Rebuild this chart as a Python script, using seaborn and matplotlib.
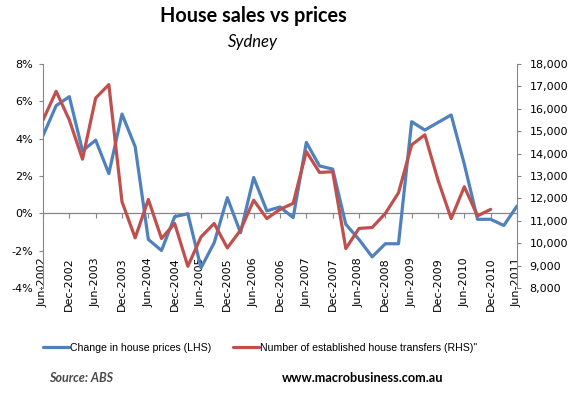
import matplotlib
matplotlib.use("Agg")
import numpy as np
import pandas as pd
import matplotlib.pyplot as plt
import seaborn as sns

# quarterly data, Jun-2002 .. Jun-2011
quarters = ["Jun-2002", "Sep-2002", "Dec-2002", "Mar-2003", "Jun-2003", "Sep-2003", "Dec-2003",
            "Mar-2004", "Jun-2004", "Sep-2004", "Dec-2004", "Mar-2005", "Jun-2005", "Sep-2005",
            "Dec-2005", "Mar-2006", "Jun-2006", "Sep-2006", "Dec-2006", "Mar-2007", "Jun-2007",
            "Sep-2007", "Dec-2007", "Mar-2008", "Jun-2008", "Sep-2008", "Dec-2008", "Mar-2009",
            "Jun-2009", "Sep-2009", "Dec-2009", "Mar-2010", "Jun-2010", "Sep-2010", "Dec-2010",
            "Mar-2011", "Jun-2011"]

# change in house prices (%), LHS
price_change = [4.16, 5.77, 6.25, 3.35, 3.92, 2.13, 5.32, 3.57, -1.40, -1.99, -0.18, -0.02,
                -2.92, -1.58, 0.84, -1.04, 1.92, 0.13, 0.34, -0.23, 3.80, 2.54, 2.37, -0.59,
                -1.40, -2.33, -1.63, -1.63, 4.91, 4.46, 4.87, 5.27, 2.63, -0.32, -0.32, -0.65, 0.39]

# number of established house transfers, RHS (ends Dec-2010)
transfers = [15500, 16780, 15500, 13750, 16480, 17080, 11850, 10240, 11950, 10210, 10880, 8970,
             10280, 10880, 9790, 10580, 11920, 11100, 11510, 11780, 14090, 13160, 13190, 9760,
             10660, 10700, 11330, 12250, 14390, 14840, 12820, 11100, 12520, 11220, 11510]

tick_labels = quarters[::2]

BLUE = "#4F81BD"
RED = "#C0504D"
GREY = "#868686"

sns.set_style("white")
plt.rcParams['font.family'] = ['DejaVu Sans']
plt.rcParams['text.color'] = 'black'
plt.rcParams['xtick.color'] = 'black'
plt.rcParams['ytick.color'] = 'black'

df_p = pd.DataFrame({"q": np.arange(len(price_change)), "v": price_change})
df_t = pd.DataFrame({"q": np.arange(len(transfers)), "v": transfers})

fig = plt.figure(figsize=(5.79, 3.98), dpi=100)
ax = fig.add_axes([43/579, 1-288/398, (517-43)/579, 224/398])
ax2 = ax.twinx()

sns.lineplot(data=df_p, x="q", y="v", ax=ax, color=BLUE, linewidth=2.3,
             label="Change in house prices (LHS)")
sns.lineplot(data=df_t, x="q", y="v", ax=ax2, color=RED, linewidth=2.3,
             label='Number of established house transfers (RHS)"')

ax.set_xlim(0, len(quarters) - 1)
ax.set_ylim(-4, 8)
ax2.set_ylim(8000, 18000)
ax.set_xlabel("")
ax.set_ylabel("")
ax2.set_ylabel("")

ax.set_yticks(range(-4, 9, 2))
ax.set_yticklabels([f"{v}%" for v in range(-4, 9, 2)])
ax2.set_yticks(range(8000, 18001, 1000))
ax2.set_yticklabels([f"{v:,}" for v in range(8000, 18001, 1000)])

ax.set_xticks(range(0, len(quarters), 2))
ax.set_xticklabels(tick_labels, rotation=90)
ax.tick_params(axis="x", length=0, pad=-22, labelsize=8)
ax.tick_params(axis="y", direction="out", length=3, width=0.8, color=GREY, pad=4,
               labelsize=8, left=True)
ax2.tick_params(axis="y", direction="out", length=3, width=0.8, color=GREY, pad=6,
                labelsize=8, right=True)

for s in ["top", "bottom", "right"]:
    ax.spines[s].set_visible(False)
for s in ["top", "bottom", "left"]:
    ax2.spines[s].set_visible(False)
ax.spines["left"].set_color(GREY)
ax2.spines["right"].set_color(GREY)

# category axis crossing at 0%
sec = ax.secondary_xaxis(1/3)
sec.set_xticks(range(0, len(quarters), 2))
sec.tick_params(axis="x", direction="out", length=3.5, width=0.8, color=GREY, labelbottom=False)
sec.spines["bottom"].set_color(GREY)
sec.spines["bottom"].set_linewidth(0.9)

h1, l1 = ax.get_legend_handles_labels()
h2, l2 = ax2.get_legend_handles_labels()
ax.get_legend().remove()
ax2.get_legend().remove()
fig.legend(h1 + h2, l1 + l2, loc="center", bbox_to_anchor=(260/579, 1-348/398), ncol=2,
           frameon=False, prop={"family": "Liberation Sans", "size": 7.6},
           handlelength=2.5, handletextpad=0.1, columnspacing=2.0)

fig.text(253/579, 1-16/398, "House sales vs prices", ha="center", va="center",
         fontsize=14.3, fontweight="bold", family="Lato")
fig.text(253/579, 1-42/398, "Sydney", ha="center", va="center",
         fontsize=12, style="italic", family="Lato")
fig.text(49/579, 1-378/398, "Source: ABS", ha="left", va="center", fontsize=9,
         fontweight="bold", style="italic", family="Lato", color="#4a4a4a")
fig.text(363/579, 1-378/398, "www.macrobusiness.com.au", ha="center", va="center",
         fontsize=9.2, fontweight="bold", family="Lato", color="black")

fig.savefig("out.png", dpi=100)
